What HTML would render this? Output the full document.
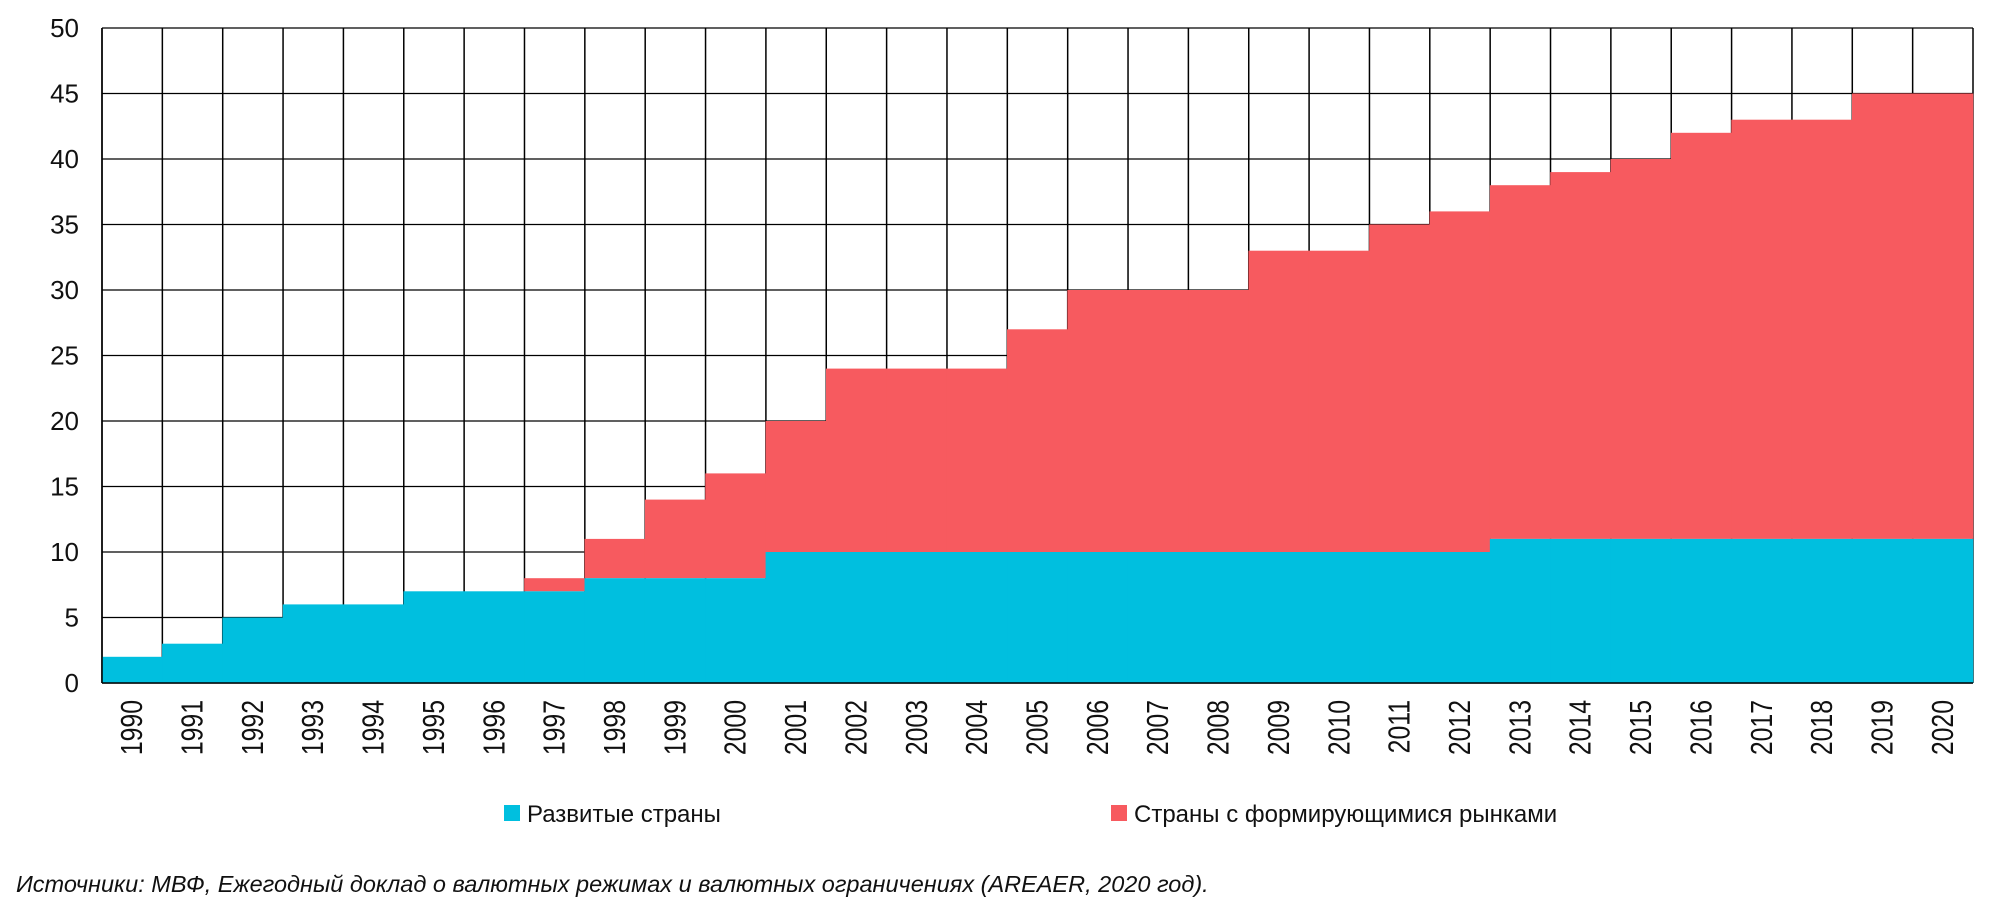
<!DOCTYPE html>
<html><head><meta charset="utf-8"><style>
body{margin:0;background:#fff;width:2008px;height:907px;overflow:hidden}
svg{display:block}
text{font-family:"Liberation Sans",sans-serif;fill:#111}
</style></head><body>
<svg width="2008" height="907" viewBox="0 0 2008 907" xmlns="http://www.w3.org/2000/svg">
<g id="g"></g>
</svg>
<script>
const NS="http://www.w3.org/2000/svg",g=document.getElementById('g');
function el(t,a,txt){const e=document.createElementNS(NS,t);for(const k in a)e.setAttribute(k,a[k]);if(txt!=null)e.textContent=txt;g.appendChild(e);return e;}
const L=102,R=1973,T=28,B=683,n=31,cw=(R-L)/n,u=(B-T)/50;
const dev=[2,3,5,6,6,7,7,7,8,8,8,10,10,10,10,10,10,10,10,10,10,10,10,11,11,11,11,11,11,11,11];
const tot=[2,3,5,6,6,7,7,8,11,14,16,20,24,24,24,27,30,30,30,33,33,35,36,38,39,40,42,43,43,45,45];
for(let v=0;v<=50;v+=5){const y=B-v*u;el('line',{x1:L,x2:R,y1:y,y2:y,stroke:'#000','stroke-width':1.3});
el('text',{x:79,y:y+9,'text-anchor':'end','font-size':26},v);}
for(let i=0;i<=n;i++){const x=L+i*cw;el('line',{x1:x,x2:x,y1:T,y2:B,stroke:'#000','stroke-width':1.5});}
for(let i=0;i<n;i++){const x=L+i*cw;
el('rect',{x:x-0.3,y:B-tot[i]*u,width:cw+0.6,height:(tot[i]-dev[i])*u,fill:'#F75A5F'});
el('rect',{x:x-0.3,y:B-dev[i]*u,width:cw+0.6,height:dev[i]*u,fill:'#00BFDF'});
const cx=x+cw/2+10;
el('text',{x:0,y:0,'font-size':31,'text-anchor':'end',transform:`translate(${cx},700) rotate(-90) scale(0.8,1)`},1990+i);}
el('line',{x1:L,x2:L,y1:T,y2:B,stroke:'#000','stroke-width':1.5});
el('line',{x1:L,x2:R,y1:B,y2:B,stroke:'#000','stroke-width':1.5});
el('rect',{x:504,y:805,width:16,height:16,fill:'#00BFDF'});
el('text',{x:527,y:822,'font-size':24},'Развитые страны');
el('rect',{x:1111,y:805,width:16,height:16,fill:'#F75A5F'});
el('text',{x:1134,y:822,'font-size':24},'Страны с формирующимися рынками');
el('text',{x:16,y:892,'font-size':23.5,'font-style':'italic'},'Источники: МВФ, Ежегодный доклад о валютных режимах и валютных ограничениях (AREAER, 2020 год).');
</script>
</body></html>
